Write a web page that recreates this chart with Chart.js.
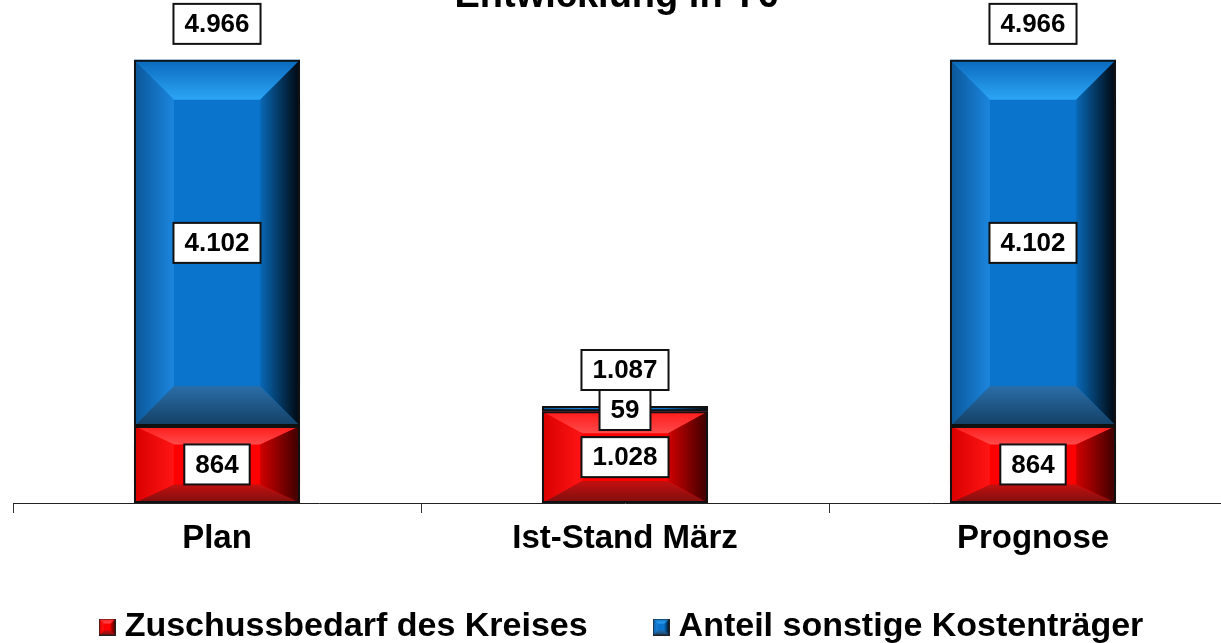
<!DOCTYPE html>
<html>
<head>
<meta charset="utf-8">
<script src="https://cdn.jsdelivr.net/npm/chart.js@4/dist/chart.umd.min.js"></script>
<style>
  html, body { margin: 0; padding: 0; background: #fff; overflow: hidden; }
  #wrap { width: 1250px; height: 643px; }
</style>
</head>
<body>
<div id="wrap"><canvas id="kostenChart"></canvas></div>
<script>
var categories = ['Plan', 'Ist-Stand März', 'Prognose'];
var zuschuss = [864, 1028, 864];
var sonstige = [4102, 59, 4102];
var seriesNames = ['Zuschussbedarf des Kreises', 'Anteil sonstige Kostenträger'];
var titleText = 'Entwicklung in T€';

var FONT = '"Liberation Sans", Arial, sans-serif';

// bevel colours per series: face, top(outer,inner), left(outer,inner), right(inner,outer), bottom(inner,outer)
var bevels = [
  { face: '#ff0000', top: ['#ff1a1a', '#ff4a4a'], left: ['#d80000', '#ff1414'],
    right: ['#d00000', '#3a0000'], bottom: ['#c41010', '#7e0e0e'] },
  { face: '#0a74cc', top: ['#0a68bc', '#2ca6f6'], left: ['#0a5698', '#1c86de'],
    right: ['#0868b6', '#00060c'], bottom: ['#2a6ea8', '#133f64'] }
];

function fmt(n) {
  return String(n).replace(/\B(?=(\d{3})+(?!\d))/g, '.');
}

function makeIcon(b) {
  var c = document.createElement('canvas');
  c.width = 17; c.height = 17;
  var g = c.getContext('2d');
  drawBevel(g, 0, 0, 17, 17, b, 5, 5);
  g.strokeStyle = '#222';
  g.lineWidth = 1;
  g.strokeRect(0.5, 0.5, 16, 16);
  return c;
}

function poly(ctx, pts, fill) {
  ctx.beginPath();
  ctx.moveTo(pts[0][0], pts[0][1]);
  for (var i = 1; i < pts.length; i++) ctx.lineTo(pts[i][0], pts[i][1]);
  ctx.closePath();
  ctx.fillStyle = fill;
  ctx.fill();
}

function grad(ctx, x0, y0, x1, y1, c0, c1) {
  var gr = ctx.createLinearGradient(x0, y0, x1, y1);
  gr.addColorStop(0, c0);
  gr.addColorStop(1, c1);
  return gr;
}

function drawBevel(ctx, L, T, w, h, b, dx, dy) {
  var R = L + w, B = T + h;
  ctx.fillStyle = b.face;
  ctx.fillRect(L, T, w, h);
  poly(ctx, [[L, T], [R, T], [R - dx, T + dy], [L + dx, T + dy]], grad(ctx, 0, T, 0, T + dy, b.top[0], b.top[1]));
  poly(ctx, [[L, B], [R, B], [R - dx, B - dy], [L + dx, B - dy]], grad(ctx, 0, B - dy, 0, B, b.bottom[0], b.bottom[1]));
  poly(ctx, [[L, T], [L + dx, T + dy], [L + dx, B - dy], [L, B]], grad(ctx, L, 0, L + dx, 0, b.left[0], b.left[1]));
  poly(ctx, [[R, T], [R - dx, T + dy], [R - dx, B - dy], [R, B]], grad(ctx, R - dx, 0, R, 0, b.right[0], b.right[1]));
}

var legendIcons = bevels.map(makeIcon);

var bevelPlugin = {
  id: 'bevelBars',
  beforeDatasetsDraw: function (chart) {
    var ctx = chart.ctx;
    ctx.save();
    chart.data.datasets.forEach(function (ds, di) {
      var meta = chart.getDatasetMeta(di);
      meta.data.forEach(function (bar) {
        var p = bar.getProps(['x', 'y', 'base', 'width'], true);
        var L = p.x - p.width / 2;
        var T = Math.min(p.y, p.base);
        var h = Math.abs(p.base - p.y);
        var dx = Math.min(40, p.width * 0.24);
        var dy = Math.min(40, h * 0.24);
        drawBevel(ctx, L, T, p.width, h, bevels[di], dx, dy);
      });
    });
    ctx.restore();
  }
};

// pull the legend's top edge up so the wide item spacing still fits
var legendShift = {
  id: 'legendShift',
  afterLayout: function (chart) {
    if (chart.legend) {
      chart.legend.top -= 27;
      chart.legend.height += 27;
    }
  }
};

function labelBox(ctx, text, cx, cy) {
  ctx.font = 'bold 26px ' + FONT;
  var w = ctx.measureText(text).width + 22;
  var h = 40;
  ctx.fillStyle = '#fff';
  ctx.fillRect(cx - w / 2, cy - h / 2, w, h);
  ctx.strokeStyle = '#111';
  ctx.lineWidth = 2;
  ctx.strokeRect(cx - w / 2, cy - h / 2, w, h);
  ctx.fillStyle = '#000';
  ctx.textAlign = 'center';
  ctx.textBaseline = 'middle';
  ctx.fillText(text, cx, cy + 1);
}

var labelPlugin = {
  id: 'barLabels',
  afterDatasetsDraw: function (chart) {
    var ctx = chart.ctx;
    ctx.save();
    categories.forEach(function (cat, i) {
      var top = Infinity, x = 0;
      chart.data.datasets.forEach(function (ds, di) {
        var bar = chart.getDatasetMeta(di).data[i];
        top = Math.min(top, bar.y);
        x = bar.x;
      });
      var totalCy = top - 36;
      var totalBottom = totalCy + 20;
      chart.data.datasets.forEach(function (ds, di) {
        var bar = chart.getDatasetMeta(di).data[i];
        var cy = (bar.y + bar.base) / 2;
        if (cy - 20 < totalBottom) cy = totalBottom + 20;
        labelBox(ctx, fmt(ds.data[i]), bar.x, cy);
      });
      labelBox(ctx, fmt(zuschuss[i] + sonstige[i]), x, totalCy);
    });
    // title (partly above the canvas edge, as in the original)
    ctx.font = 'bold 38px ' + FONT;
    ctx.fillStyle = '#000';
    ctx.textAlign = 'center';
    ctx.textBaseline = 'alphabetic';
    ctx.fillText(titleText, 616, 7);
    ctx.restore();
  }
};

new Chart(document.getElementById('kostenChart'), {
  type: 'bar',
  data: {
    labels: categories,
    datasets: [
      { label: seriesNames[0], data: zuschuss, backgroundColor: 'rgba(0,0,0,0)',
        borderColor: '#111', borderWidth: 2, borderSkipped: false },
      { label: seriesNames[1], data: sonstige, backgroundColor: 'rgba(0,0,0,0)',
        borderColor: '#111', borderWidth: 2, borderSkipped: false }
    ]
  },
  options: {
    responsive: true,
    maintainAspectRatio: false,
    animation: false,
    layout: { padding: { left: 13, right: 13, top: 0, bottom: 0 } },
    datasets: { bar: { categoryPercentage: 1, barPercentage: 0.407 } },
    scales: {
      x: {
        stacked: true,
        grid: { display: true, drawOnChartArea: false, drawTicks: true, tickLength: 10, color: '#333', offset: true },
        border: { display: true, color: '#222', width: 1 },
        ticks: { color: '#000', padding: 9, font: { family: FONT, size: 33, weight: 'bold', lineHeight: 1 } }
      },
      y: { stacked: true, display: false, min: 0, max: 5637 }
    },
    plugins: {
      tooltip: { enabled: false },
      legend: {
        position: 'bottom',
        maxHeight: 79,
        labels: {
          usePointStyle: true,
          pointStyleWidth: 1,
          boxWidth: 17,
          padding: 73,
          color: '#000',
          font: { family: FONT, size: 34, weight: 'bold' },
          generateLabels: function (chart) {
            var items = Chart.defaults.plugins.legend.labels.generateLabels(chart);
            items.forEach(function (it, i) { it.pointStyle = legendIcons[i]; });
            return items;
          }
        }
      }
    }
  },
  plugins: [bevelPlugin, legendShift, labelPlugin]
});
</script>
</body>
</html>
